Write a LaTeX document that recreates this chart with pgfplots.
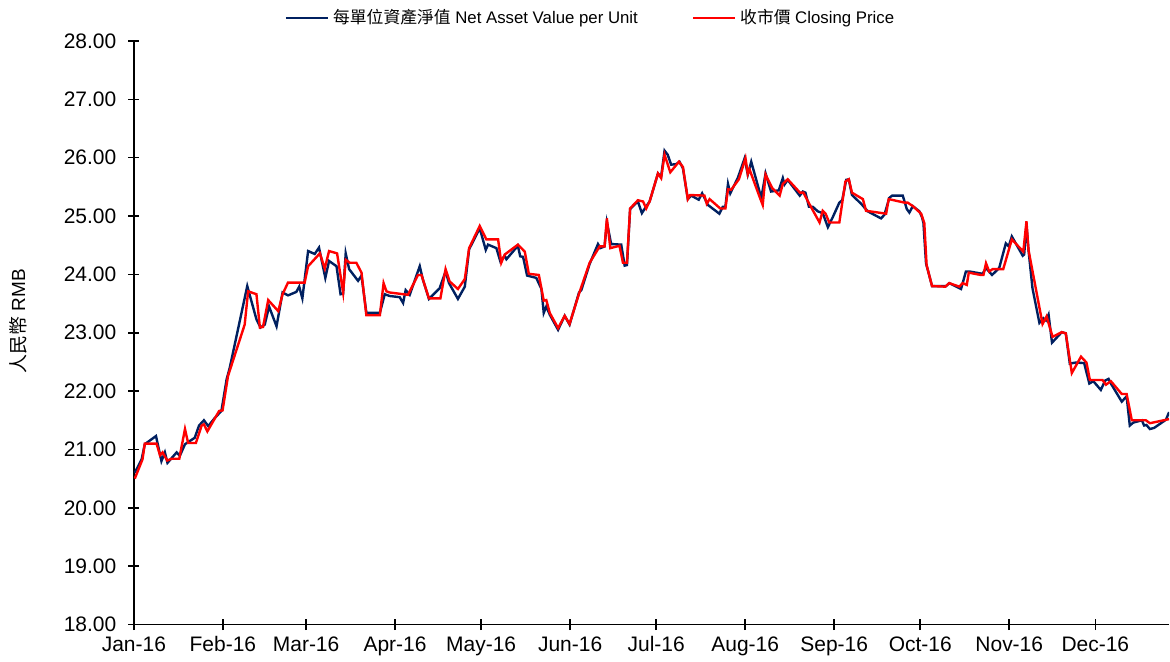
\documentclass[border=0pt]{standalone}
\usepackage{pgfplots}
\pgfplotsset{compat=1.18}
\usepackage{fontspec}
\setmainfont{Liberation Sans}
\newfontfamily\cjk{Noto Sans CJK TC}
\definecolor{navcol}{HTML}{002060}
\definecolor{pricecol}{HTML}{FF0000}
\begin{document}
\begin{tikzpicture}
\begin{axis}[
  scale only axis, width=518pt, height=292pt,
  xmin=0, xmax=360.7, ymin=18, ymax=28,
  axis x line=bottom, axis y line=left,
  axis line style={-, line width=0.9pt},
  xtick={0,31,60,91,121,152,182,213,244,274,305,335},
  xticklabels={Jan-16,Feb-16,Mar-16,Apr-16,May-16,Jun-16,Jul-16,Aug-16,Sep-16,Oct-16,Nov-16,Dec-16},
  ytick={18,19,...,28},
  tick align=center, major tick length=5.5pt,
  tick style={black, line width=0.8pt},
  /pgf/number format/assume math mode=true,
  yticklabel style={/pgf/number format/.cd, fixed, fixed zerofill, precision=2, /tikz/.cd, xshift=-2.5pt},
  xticklabel style={text height=1.6ex, text depth=0.3ex, yshift=1pt},
  ticklabel style={font=\fontsize{10.5}{12}\selectfont},
  ylabel={{\cjk 人民幣} RMB},
  ylabel style={at={(axis description cs:-0.112,0.52)}, anchor=center, font=\fontsize{9.5}{11}\selectfont},
  legend style={at={(0.442,1.039)}, anchor=center, draw=none, fill=none,
    font=\fontsize{8.4}{10}\selectfont,
    /tikz/every even column/.append style={column sep=25pt}},
  legend columns=2, legend cell align=left,
  legend image code/.code={\draw[#1] (0pt,0pt) -- (21pt,0pt);},
]
\addplot[navcol, line width=1.2pt] coordinates {
(0.3,20.60)(2.7,20.83)(3.8,21.09)(7.7,21.23)(9.6,20.80)(10.8,20.95)(11.7,20.77)(14.9,20.95)(16.0,20.89)(17.8,21.09)
(21.2,21.20)(22.7,21.41)(24.4,21.50)(25.9,21.40)(28.2,21.54)(30.5,21.66)(32.3,22.20)(33.4,22.40)(39.5,23.80)(42.7,23.23)
(44.1,23.09)(45.6,23.14)(47.1,23.45)(49.7,23.11)(51.8,23.69)(53.7,23.64)(56.6,23.70)(57.6,23.79)(58.7,23.59)(60.7,24.40)
(63.0,24.35)(64.5,24.46)(66.7,23.94)(68.0,24.23)(70.6,24.14)(72.0,23.66)(72.9,23.67)(73.8,24.36)(75.0,24.09)(78.1,23.89)
(79.3,23.98)(81.0,23.34)(85.7,23.34)(87.4,23.66)(89.1,23.63)(92.6,23.61)(93.8,23.51)(94.7,23.73)(96.1,23.65)(99.6,24.14)
(100.7,23.91)(102.8,23.58)(106.5,23.76)(108.6,24.05)(109.8,23.85)(112.9,23.58)(115.3,23.79)(116.8,24.43)(120.5,24.79)(122.6,24.42)
(123.4,24.51)(126.3,24.45)(127.7,24.22)(129.2,24.32)(129.8,24.26)(133.8,24.49)(134.6,24.31)(135.6,24.30)(137.0,23.98)(140.2,23.94)
(142.0,23.75)(142.8,23.34)(143.7,23.45)(144.9,23.31)(147.8,23.05)(150.1,23.29)(151.8,23.14)(155.1,23.69)(155.9,23.73)(158.8,24.18)
(161.7,24.52)(162.5,24.45)(164.0,24.48)(164.8,24.89)(166.3,24.52)(169.8,24.51)(171.0,24.15)(171.8,24.16)(172.9,25.12)(175.6,25.25)
(177.0,25.05)(178.3,25.15)(179.7,25.25)(182.6,25.73)(183.7,25.67)(184.9,26.12)(186.0,26.05)(187.2,25.88)(189.0,25.89)(190.1,25.93)
(191.3,25.82)(193.0,25.29)(194.2,25.35)(196.8,25.28)(198.0,25.39)(200.0,25.19)(204.0,25.04)(205.2,25.16)(206.1,25.16)(207.0,25.55)
(207.8,25.39)(210.4,25.65)(212.8,25.99)(213.9,25.71)(215.1,25.93)(218.6,25.31)(220.1,25.73)(222.0,25.42)(224.7,25.44)(226.1,25.65)
(226.7,25.54)(227.8,25.62)(232.0,25.35)(233.1,25.42)(234.0,25.40)(235.2,25.16)(236.5,25.16)(238.3,25.08)(240.0,25.05)(241.8,24.81)
(243.5,24.98)(245.8,25.23)(246.8,25.27)(248.2,25.62)(249.1,25.63)(250.2,25.36)(253.4,25.21)(255.7,25.08)(260.3,24.96)(261.5,25.02)
(263.2,25.31)(264.2,25.35)(267.9,25.35)(269.3,25.12)(270.2,25.06)(271.4,25.17)(273.7,25.08)(274.6,24.98)(275.1,24.88)(276.0,24.19)
(278.1,23.80)(283.0,23.80)(284.1,23.85)(288.2,23.75)(289.9,24.05)(291.1,24.05)(295.7,24.01)(296.9,24.11)(299.0,23.99)(301.5,24.11)
(303.8,24.53)(304.8,24.48)(305.9,24.65)(309.7,24.32)(310.2,24.34)(311.0,24.85)(311.7,24.42)(313.1,23.76)(315.5,23.17)(316.9,23.25)
(317.8,23.21)(318.7,23.31)(319.9,22.83)(323.3,23.01)(324.7,22.99)(326.1,22.47)(328.2,22.49)(331.1,22.48)(332.9,22.13)(334.3,22.17)
(336.9,22.02)(338.4,22.18)(339.6,22.21)(340.4,22.13)(344.2,21.82)(345.9,21.91)(347.0,21.41)(348.2,21.46)(351.2,21.50)(352.0,21.41)
(352.8,21.42)(354.0,21.35)(355.5,21.37)(359.6,21.51)(360.7,21.64)
};
\addlegendentry{{\cjk 每單位資產淨值} Net Asset Value per Unit}
\addplot[pricecol, line width=1.2pt] coordinates {
(0.3,20.50)(3.0,20.83)(3.8,21.10)(7.9,21.10)(9.1,20.90)(10.0,20.95)(11.6,20.81)(13.1,20.84)(15.8,20.84)(17.8,21.35)
(18.9,21.11)(21.6,21.11)(23.6,21.41)(24.4,21.43)(25.6,21.31)(29.7,21.66)(30.9,21.67)(32.8,22.26)(38.6,23.14)(39.8,23.71)
(42.7,23.66)(43.9,23.09)(45.0,23.10)(46.8,23.56)(50.3,23.37)(51.8,23.66)(53.7,23.86)(59.5,23.86)(60.7,24.14)(64.8,24.36)
(66.5,24.10)(68.0,24.40)(70.8,24.36)(72.9,23.69)(73.8,24.25)(75.2,24.20)(77.5,24.20)(79.3,24.03)(81.0,23.30)(85.7,23.30)
(87.0,23.85)(88.0,23.71)(89.1,23.69)(95.5,23.65)(99.0,23.99)(100.2,23.99)(102.8,23.59)(106.8,23.59)(108.6,24.09)(110.0,23.88)
(112.9,23.75)(115.3,23.92)(116.8,24.45)(120.5,24.83)(122.8,24.60)(126.9,24.60)(128.0,24.20)(129.2,24.34)(133.8,24.51)(136.2,24.39)
(137.6,24.01)(141.1,23.99)(142.8,23.55)(143.7,23.56)(144.9,23.34)(147.8,23.08)(150.1,23.29)(151.8,23.15)(155.1,23.67)(158.8,24.20)
(162.3,24.48)(164.0,24.48)(164.8,24.96)(166.0,24.45)(169.2,24.49)(170.4,24.20)(171.8,24.20)(172.9,25.13)(175.6,25.27)(177.4,25.25)
(178.5,25.13)(179.7,25.25)(182.6,25.73)(183.7,25.65)(184.9,26.05)(186.9,25.75)(189.9,25.93)(191.3,25.84)(193.0,25.29)(193.8,25.36)
(198.8,25.35)(199.6,25.21)(200.6,25.29)(204.3,25.13)(206.1,25.13)(207.0,25.46)(208.1,25.45)(210.8,25.63)(213.1,25.99)(213.9,25.72)
(214.5,25.80)(218.0,25.33)(219.1,25.19)(220.1,25.71)(222.4,25.48)(225.0,25.35)(226.1,25.55)(227.8,25.63)(232.1,25.40)(233.3,25.40)
(235.2,25.22)(238.9,24.89)(240.0,25.09)(241.0,25.04)(242.3,24.89)(245.8,24.89)(247.9,25.59)(249.1,25.63)(250.2,25.40)(254.0,25.29)
(255.1,25.09)(262.1,25.04)(263.0,25.29)(268.5,25.23)(269.6,25.23)(271.4,25.17)(274.3,25.04)(275.4,24.88)(276.2,24.16)(278.1,23.80)
(282.7,23.79)(284.1,23.85)(287.6,23.79)(288.8,23.85)(290.2,23.82)(290.9,24.03)(295.1,23.99)(296.0,23.99)(296.9,24.19)(298.0,24.05)
(299.2,24.09)(302.9,24.09)(305.9,24.60)(309.9,24.39)(311.0,24.91)(311.7,24.42)(316.6,23.15)(318.0,23.28)(320.1,22.93)(323.3,23.01)
(324.7,22.99)(326.8,22.31)(330.0,22.59)(331.9,22.49)(333.1,22.19)(337.5,22.19)(338.7,22.11)(340.4,22.17)(344.2,21.95)(345.9,21.95)
(347.7,21.50)(352.6,21.50)(354.0,21.45)(360.7,21.52)
};
\addlegendentry{{\cjk 收市價} Closing Price}
\coordinate (sw) at (rel axis cs:0,0);
\coordinate (ne) at (rel axis cs:1,1);
\end{axis}
\path (sw) ++(-67pt,-16pt);
\path (ne) ++(0pt,20.5pt);
\end{tikzpicture}
\end{document}
